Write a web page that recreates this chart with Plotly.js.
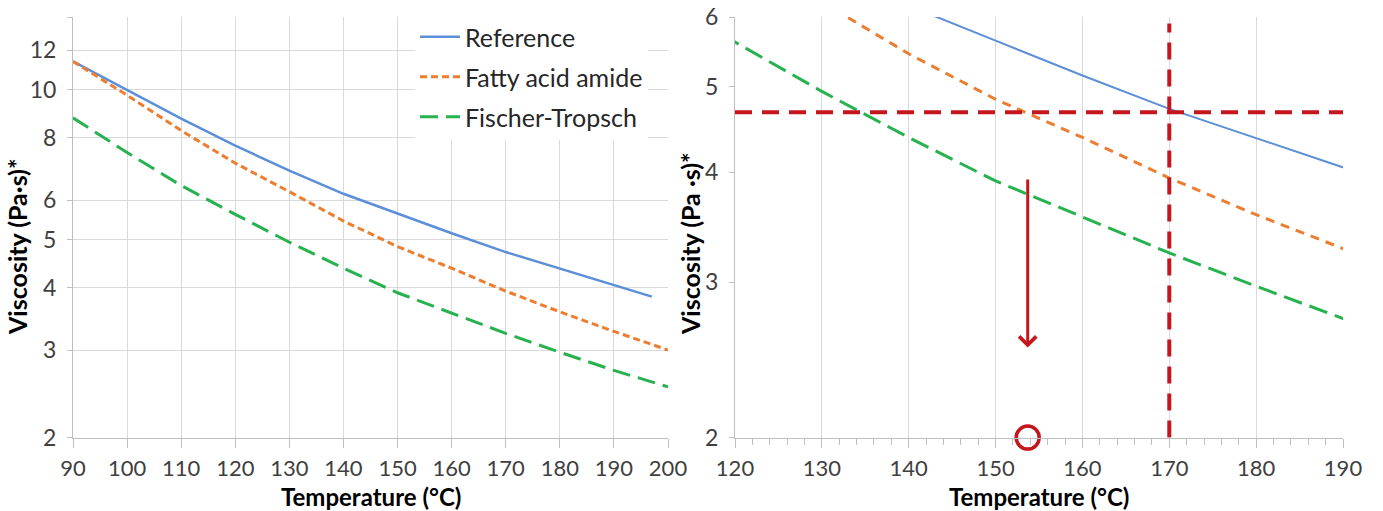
<!DOCTYPE html>
<html><head><meta charset="utf-8">
<script src="https://cdn.plot.ly/plotly-3.0.1.min.js"></script>
<style>html,body{margin:0;padding:0;background:#fff}#chart{width:1383px;height:511px}</style>
</head><body><div id="chart"></div>
<script>
// ---- data ----
const temps = [90, 100, 110, 120, 130, 140, 150, 160, 170, 180, 190, 200];
const refTemps = [90, 100, 110, 120, 130, 140, 150, 160, 170, 180, 190, 197];
const referenceVisc = [11.4, 10.0, 8.75, 7.72, 6.88, 6.18, 5.64, 5.15, 4.72, 4.37, 4.04, 3.84];
const fattyAmideVisc = [11.4, 9.75, 8.28, 7.12, 6.24, 5.45, 4.84, 4.38, 3.94, 3.58, 3.27, 3.00];
const fischerTropschVisc = [8.78, 7.48, 6.42, 5.62, 4.94, 4.38, 3.91, 3.56, 3.24, 2.97, 2.73, 2.53];
const seriesNames = ['Reference', 'Fatty acid amide', 'Fischer-Tropsch'];

const leftXTicks = [90, 100, 110, 120, 130, 140, 150, 160, 170, 180, 190, 200];
const leftYTicks = [2, 3, 4, 5, 6, 8, 10, 12, 14];
const leftYTickText = ['2', '3', '4', '5', '6', '8', '10', '12', ''];
const rightXTicks = [120, 130, 140, 150, 160, 170, 180, 190];
const rightYTicks = [2, 3, 4, 5, 6];
const xTitle = 'Temperature (°C)';
const leftYTitle = 'Viscosity (Pa·s)*';
const rightYTitle = 'Viscosity (Pa ·s)*';

// annotation values on the right panel
const thresholdVisc = 4.68;
const thresholdTemps = [120, 190];
const targetTemp = 170;
const targetViscs = [2, 5.9];
const shiftTemp = 153.7;
const shiftViscFrom = 3.94;
const shiftViscTo = 2.53;
const shiftMarkVisc = 2;

// ---- styles ----
const FONT = 'Lato, "Open Sans", sans-serif';
const blue = '#5b8fd8', orange = '#ed7d31', green = '#27b24f', red = '#c5161d';
const grid = '#d9d9d9', tickCol = '#bfbfbf', txt = '#404040';
const W = 1383, H = 511;
const yDom = [1 - 437.7 / H, 1 - 17 / H];
const leftDom = [73 / W, 668 / W];
const rightDom = [735 / W, 1343 / W];

const traces = [
  {x: refTemps, y: referenceVisc, name: seriesNames[0], legendgroup: 'a', mode: 'lines',
   line: {color: blue, width: 2.5}, xaxis: 'x', yaxis: 'y'},
  {x: temps, y: fattyAmideVisc, name: seriesNames[1], legendgroup: 'b', mode: 'lines',
   line: {color: orange, width: 3, dash: '7px,4px'}, xaxis: 'x', yaxis: 'y'},
  {x: temps, y: fischerTropschVisc, name: seriesNames[2], legendgroup: 'c', mode: 'lines',
   line: {color: green, width: 3, dash: '18px,8px'}, xaxis: 'x', yaxis: 'y'},

  {x: refTemps, y: referenceVisc, name: seriesNames[0], showlegend: false, mode: 'lines',
   line: {color: blue, width: 2}, xaxis: 'x2', yaxis: 'y2'},
  {x: temps, y: fattyAmideVisc, name: seriesNames[1], showlegend: false, mode: 'lines',
   line: {color: orange, width: 3, dash: '9px,7px'}, xaxis: 'x2', yaxis: 'y2'},
  {x: temps, y: fischerTropschVisc, name: seriesNames[2], showlegend: false, mode: 'lines',
   line: {color: green, width: 3, dash: '19px,8px'}, xaxis: 'x2', yaxis: 'y2'},

  {x: thresholdTemps, y: [thresholdVisc, thresholdVisc], showlegend: false, mode: 'lines',
   line: {color: red, width: 4, dash: '17px,10px'}, xaxis: 'x2', yaxis: 'y2', hoverinfo: 'skip'},
  {x: [targetTemp, targetTemp], y: targetViscs, showlegend: false, mode: 'lines',
   line: {color: red, width: 4, dash: '17px,10px'}, xaxis: 'x2', yaxis: 'y2', hoverinfo: 'skip'},
  {x: [shiftTemp], y: [shiftMarkVisc], showlegend: false, mode: 'markers', cliponaxis: false,
   marker: {symbol: 'circle-open', size: 23, color: red, line: {color: red, width: 3.5}},
   xaxis: 'x2', yaxis: 'y2', hoverinfo: 'skip'}
];

const tickFont = {family: FONT, size: 22, color: txt};
const titleFont = {family: FONT, size: 24, color: '#000', weight: 700};
const yTitleFont = {family: FONT, size: 25, color: '#000', weight: 700};

const layout = {
  width: W, height: H,
  margin: {l: 0, r: 0, t: 0, b: 0},
  paper_bgcolor: '#fff', plot_bgcolor: '#fff',
  font: {family: FONT, color: txt},
  showlegend: true,
  legend: {
    x: 415 / W, xanchor: 'left', y: 1 - 14 / H, yanchor: 'top',
    bgcolor: '#fff', borderwidth: 0, itemwidth: 40,
    traceorder: 'grouped', tracegroupgap: 4.5,
    font: {family: FONT, size: 25, color: '#262626'}
  },
  xaxis: {
    domain: leftDom, anchor: 'y', range: [90, 200],
    tickvals: leftXTicks, showgrid: true, gridcolor: grid, gridwidth: 1,
    showline: true, linecolor: tickCol, linewidth: 1,
    ticks: 'outside', ticklen: 9, tickcolor: tickCol, ticklabelstandoff: 2,
    tickfont: tickFont, zeroline: false
  },
  yaxis: {
    domain: yDom, anchor: 'x', type: 'log', range: [Math.log10(2), Math.log10(14)],
    tickvals: leftYTicks, ticktext: leftYTickText,
    showgrid: true, gridcolor: grid, gridwidth: 1,
    showline: true, linecolor: tickCol, linewidth: 1,
    ticks: 'outside', ticklen: 5, tickcolor: tickCol, ticklabelstandoff: 6,
    tickfont: {family: FONT, size: 23, color: txt}, zeroline: false
  },
  xaxis2: {
    domain: rightDom, anchor: 'y2', range: [120, 190],
    tickvals: rightXTicks, showgrid: true, gridcolor: grid, gridwidth: 1,
    showline: true, linecolor: tickCol, linewidth: 1,
    ticks: 'outside', ticklen: 9, tickcolor: tickCol, ticklabelstandoff: 2,
    minor: {dtick: 2, ticks: 'outside', ticklen: 6, tickcolor: tickCol, showgrid: false},
    tickfont: tickFont, zeroline: false
  },
  yaxis2: {
    domain: yDom, anchor: 'x2', type: 'log', range: [Math.log10(2) - 1e-4, Math.log10(6)],
    tickvals: rightYTicks, showgrid: false,
    showline: true, linecolor: tickCol, linewidth: 1,
    ticks: 'outside', ticklen: 5, tickcolor: tickCol, ticklabelstandoff: 6,
    tickfont: {family: FONT, size: 23, color: txt}, zeroline: false
  },
  annotations: [
    {xref: 'paper', yref: 'paper', x: (leftDom[0] + leftDom[1]) / 2, y: 1 - 496 / H,
     xanchor: 'center', yanchor: 'middle', text: xTitle, showarrow: false, font: titleFont},
    {xref: 'paper', yref: 'paper', x: (rightDom[0] + rightDom[1]) / 2, y: 1 - 496 / H,
     xanchor: 'center', yanchor: 'middle', text: xTitle, showarrow: false, font: titleFont},
    {xref: 'paper', yref: 'paper', x: 17 / W, y: 1 - 247 / H, xanchor: 'center', yanchor: 'middle',
     textangle: -90, text: leftYTitle, showarrow: false, font: yTitleFont},
    {xref: 'paper', yref: 'paper', x: 690 / W, y: 1 - 244 / H, xanchor: 'center', yanchor: 'middle',
     textangle: -90, text: rightYTitle, showarrow: false, font: yTitleFont},
    {xref: 'x2', yref: 'y2', axref: 'x2', ayref: 'y2',
     x: shiftTemp, y: Math.log10(shiftViscTo),
     ax: shiftTemp, ay: Math.log10(shiftViscFrom),
     text: '', showarrow: true, arrowhead: 4, arrowsize: 1.1, arrowwidth: 3,
     arrowcolor: red, standoff: 0, startstandoff: 0}
  ]
};

Plotly.newPlot('chart', traces, layout, {displayModeBar: false, staticPlot: true});
</script>
</body></html>
